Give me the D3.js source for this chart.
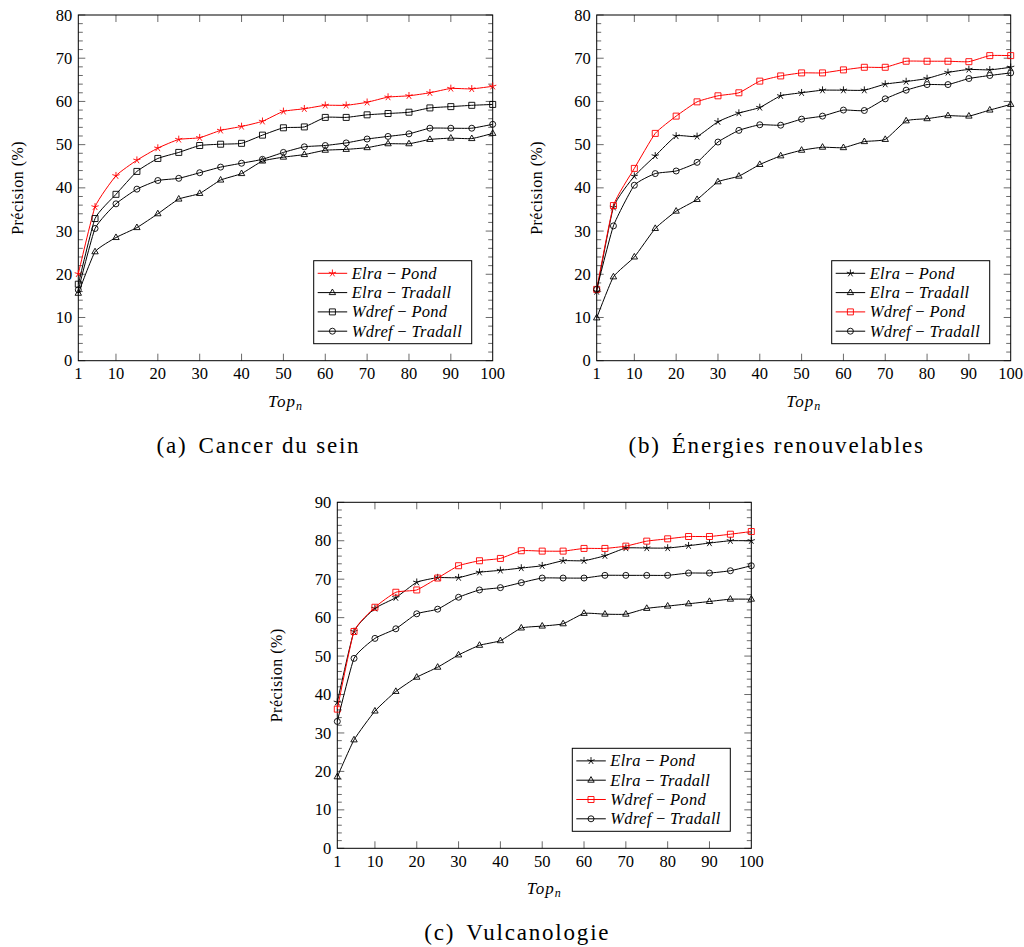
<!DOCTYPE html>
<html>
<head>
<meta charset="utf-8">
<script src="https://cdn.jsdelivr.net/npm/d3@7"></script>
</head>
<body style="margin:0;background:#fff">
<svg id="vis" width="1024" height="947"></svg>
<script>
// x positions (Top_n) shared by every panel
const topN = [1, 5, 10, 15, 20, 25, 30, 35, 40, 45, 50, 55, 60, 65, 70, 75, 80, 85, 90, 95, 100];
const xTicks = [1, 10, 20, 30, 40, 50, 60, 70, 80, 90, 100];
const seriesNames = [["Elra", "Pond"], ["Elra", "Tradall"], ["Wdref", "Pond"], ["Wdref", "Tradall"]];
const captions = ["(a)", "Cancer du sein", "(b)", "Énergies renouvelables", "(c)", "Vulcanologie"];

// (a) Cancer du sein
const cancerElraPond = [20.1, 35.6, 42.8, 46.4, 49.2, 51.2, 51.6, 53.3, 54.2, 55.4, 57.7, 58.3, 59.1, 59.1, 59.8, 61.0, 61.3, 62.0, 63.0, 62.9, 63.5];
const cancerElraTradall = [15.6, 25.2, 28.5, 30.8, 34.0, 37.4, 38.7, 41.8, 43.3, 46.2, 47.1, 47.7, 48.7, 48.9, 49.3, 50.2, 50.2, 51.2, 51.5, 51.4, 52.6];
const cancerWdrefPond = [17.7, 32.9, 38.5, 43.8, 46.8, 48.2, 49.8, 50.1, 50.3, 52.2, 53.9, 54.1, 56.3, 56.3, 56.9, 57.2, 57.5, 58.5, 58.8, 59.1, 59.3];
const cancerWdrefTradall = [16.4, 30.6, 36.3, 39.7, 41.7, 42.2, 43.5, 44.8, 45.7, 46.6, 48.2, 49.5, 49.8, 50.4, 51.3, 51.9, 52.5, 53.8, 53.8, 53.8, 54.7];

// (b) Energies renouvelables
const energyElraPond = [16.0, 35.5, 42.7, 47.4, 52.0, 51.9, 55.3, 57.3, 58.6, 61.3, 62.0, 62.6, 62.6, 62.6, 64.0, 64.6, 65.3, 66.7, 67.4, 67.3, 67.9];
const energyElraTradall = [9.9, 19.4, 24.0, 30.6, 34.6, 37.3, 41.4, 42.7, 45.4, 47.4, 48.7, 49.4, 49.3, 50.7, 51.2, 55.5, 56.0, 56.7, 56.6, 58.0, 59.3];
const energyWdrefPond = [16.5, 35.9, 44.5, 52.6, 56.6, 59.9, 61.3, 62.0, 64.7, 65.9, 66.6, 66.6, 67.3, 67.9, 67.9, 69.3, 69.3, 69.3, 69.2, 70.6, 70.6];
const energyWdrefTradall = [16.5, 31.2, 40.6, 43.3, 43.9, 45.9, 50.6, 53.3, 54.6, 54.5, 55.9, 56.6, 58.0, 57.9, 60.6, 62.6, 63.9, 63.9, 65.3, 66.0, 66.6];

// (c) Vulcanologie
const volcanoElraPond = [38.0, 56.4, 62.4, 65.2, 69.2, 70.4, 70.4, 71.8, 72.3, 72.9, 73.5, 74.8, 74.8, 76.1, 78.1, 78.1, 78.1, 78.7, 79.4, 80.0, 80.0];
const volcanoElraTradall = [18.6, 28.2, 35.7, 40.8, 44.5, 47.1, 50.3, 52.8, 54.0, 57.3, 57.8, 58.4, 61.1, 60.9, 60.9, 62.4, 63.0, 63.6, 64.2, 64.8, 64.8];
const volcanoWdrefPond = [36.2, 56.4, 62.7, 66.6, 67.2, 70.3, 73.5, 74.8, 75.4, 77.4, 77.3, 77.3, 78.0, 78.0, 78.6, 79.9, 80.5, 81.1, 81.1, 81.7, 82.4];
const volcanoWdrefTradall = [33.0, 49.4, 54.6, 57.1, 61.0, 62.2, 65.3, 67.2, 67.8, 69.1, 70.3, 70.3, 70.3, 71.0, 71.0, 71.0, 71.0, 71.6, 71.6, 72.2, 73.5];

const FONT = "'Liberation Serif', 'Times New Roman', 'Noto Serif', serif";
const svg = d3.select("svg#vis");

// panel frames (plot box in pixels) and per-panel settings
const panels = [
	{ x: 78.3, y: 15, w: 414.4, h: 345.7, yMax: 80, red: 0, cap: [captions[0], captions[1]],
		series: [cancerElraPond, cancerElraTradall, cancerWdrefPond, cancerWdrefTradall] },
	{ x: 596.7, y: 15, w: 414, h: 345.7, yMax: 80, red: 2, cap: [captions[2], captions[3]],
		series: [energyElraPond, energyElraTradall, energyWdrefPond, energyWdrefTradall] },
	{ x: 337.3, y: 502.3, w: 414, h: 346, yMax: 90, red: 2, cap: [captions[4], captions[5]],
		series: [volcanoElraPond, volcanoElraTradall, volcanoWdrefPond, volcanoWdrefTradall] }
];

const markers = ["star", "triangle", "square", "circle"];

function markerPath(type) {
	const p = d3.path();
	if (type === "star") {
		for (let k = 0; k < 5; k++) {
			const a = -Math.PI / 2 + k * 2 * Math.PI / 5;
			p.moveTo(0, 0);
			p.lineTo(3.8 * Math.cos(a), 3.8 * Math.sin(a));
		}
	} else if (type === "triangle") {
		p.moveTo(0, -3.6);
		p.lineTo(3.2, 2.0);
		p.lineTo(-3.2, 2.0);
		p.closePath();
	} else if (type === "square") {
		p.rect(-3, -3, 6, 6);
	} else {
		p.arc(0, 0, 3, 0, 2 * Math.PI);
	}
	return p.toString();
}

// every text gets its face as an inline style
function serif(sel) {
	return sel.style("font-family", FONT);
}

function drawPanel(cfg) {
	const g = svg.append("g").attr("transform", translate(cfg.x, cfg.y));

	const x = d3.scaleLinear().domain([1, 100]).range([0, cfg.w]);
	const y = d3.scaleLinear().domain([0, cfg.yMax]).range([cfg.h, 0]);

	const yMajor = d3.range(0, cfg.yMax + 1, 10);
	const yMinor = d3.range(0, cfg.yMax + 0.1, 2).filter(v => v % 10 !== 0);

	// ticks point inward on all four sides
	const ticks = g.append("g").attr("stroke", "#444").attr("stroke-width", 0.8);
	[0, cfg.w].forEach((side, i) => {
		const dir = i === 0 ? 1 : -1;
		ticks.selectAll(null).data(yMajor).enter().append("line")
			.attr("x1", side).attr("x2", side + dir * 7)
			.attr("y1", d => y(d)).attr("y2", d => y(d));
		ticks.selectAll(null).data(yMinor).enter().append("line")
			.attr("x1", side).attr("x2", side + dir * 4.5)
			.attr("y1", d => y(d)).attr("y2", d => y(d));
	});
	[0, cfg.h].forEach((side, i) => {
		const dir = i === 0 ? 1 : -1;
		ticks.selectAll(null).data(xTicks.slice(1, -1)).enter().append("line")
			.attr("y1", side).attr("y2", side + dir * 7)
			.attr("x1", d => x(d)).attr("x2", d => x(d));
	});

	// frame
	g.append("rect")
		.attr("width", cfg.w).attr("height", cfg.h)
		.attr("fill", "none").attr("stroke", "#000").attr("stroke-width", 1);

	// tick labels
	g.selectAll("text.ytick").data(yMajor).enter().append("text")
		.attr("class", "ytick")
		.call(serif)
		.attr("x", -6).attr("y", d => y(d)).attr("dy", "0.34em")
		.attr("text-anchor", "end").style("font-size", "16.5px")
		.text(d => d);

	g.selectAll("text.xtick").data(xTicks).enter().append("text")
		.attr("class", "xtick")
		.call(serif)
		.attr("x", d => x(d)).attr("y", cfg.h + 18.5)
		.attr("text-anchor", "middle").style("font-size", "16.5px")
		.text(d => d);

	// axis labels
	const xl = g.append("text")
		.call(serif)
		.attr("x", cfg.w / 2).attr("y", cfg.h + 46)
		.attr("text-anchor", "middle").style("font-size", "17px")
		.style("font-style", "italic").style("letter-spacing", "1px");
	xl.append("tspan").text("Top");
	xl.append("tspan").style("font-size", "12px").attr("dy", 3).text("n");

	g.append("text")
		.call(serif)
		.attr("transform", translate(-55, cfg.h / 2) + " rotate(-90)")
		.attr("text-anchor", "middle").style("font-size", "16px")
		.style("letter-spacing", "0.5px")
		.text("Précision (%)");

	// caption
	const cap = g.append("text")
		.call(serif)
		.attr("x", cfg.w / 2 - 27).attr("y", cfg.h + 92)
		.attr("text-anchor", "middle").style("font-size", "23px")
		.style("letter-spacing", "1.8px");
	cap.append("tspan").text(cfg.cap[0]);
	cap.append("tspan").attr("dx", 11).text(cfg.cap[1]);

	// series lines + markers
	const line = d3.line()
		.x((d, i) => x(topN[i]))
		.y(d => y(d))
		.curve(d3.curveCardinal.tension(0.55));

	cfg.series.forEach((vals, s) => {
		const col = s === cfg.red ? "#ff0000" : "#000";
		g.append("path")
			.datum(vals)
			.attr("d", line)
			.attr("fill", "none").attr("stroke", col).attr("stroke-width", 1);
		g.selectAll(null).data(vals).enter().append("path")
			.attr("transform", (d, i) => translate(x(topN[i]), y(d)))
			.attr("d", markerPath(markers[s]))
			.attr("fill", "none").attr("stroke", col).attr("stroke-width", 0.9);
	});

	// legend box in the lower right corner
	const lw = 158, lh = 83;
	const lg = g.append("g").attr("transform", translate(cfg.w - 21 - lw, cfg.h - 17 - lh));
	lg.append("rect").attr("width", lw).attr("height", lh)
		.attr("fill", "#fff").attr("stroke", "#000").attr("stroke-width", 1);

	seriesNames.forEach((nm, s) => {
		const col = s === cfg.red ? "#ff0000" : "#000";
		const ry = 12.6 + s * 19.3;
		lg.append("line").attr("x1", 4).attr("x2", 33.5).attr("y1", ry).attr("y2", ry)
			.attr("stroke", col).attr("stroke-width", 1);
		lg.append("path").attr("transform", translate(18.7, ry))
			.attr("d", markerPath(markers[s]))
			.attr("fill", "none").attr("stroke", col).attr("stroke-width", 0.9);
		const t = lg.append("text").call(serif)
			.attr("x", 38).attr("y", ry).attr("dy", "0.33em")
			.style("font-size", "16.5px").style("letter-spacing", "0.3px");
		t.append("tspan").style("font-style", "italic").text(nm[0]);
		t.append("tspan").text(" − ");
		t.append("tspan").style("font-style", "italic").text(nm[1]);
	});
}

panels.forEach(drawPanel);

//Helper functions, to make life easier
function translate(x, y) {
	return 'translate(' + x + ',' + y + ')';
}
</script>
</body>
</html>
